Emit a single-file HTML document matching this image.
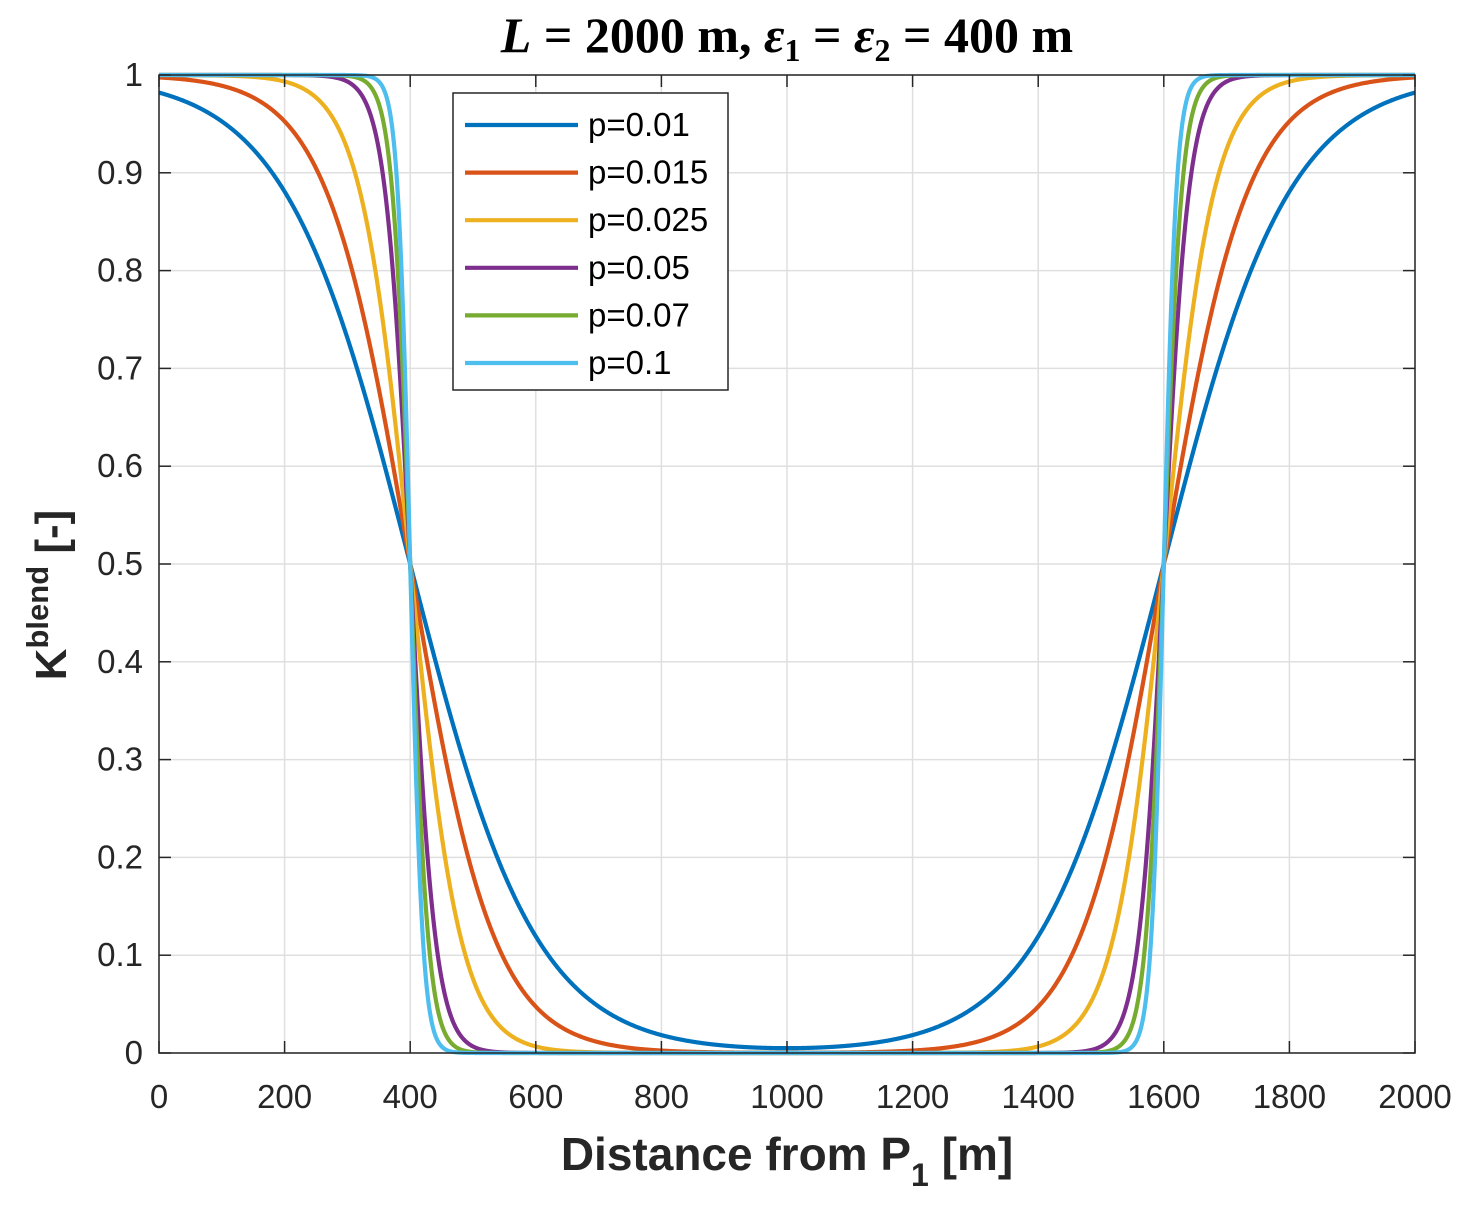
<!DOCTYPE html>
<html><head><meta charset="utf-8"><style>
body{margin:0;background:#fff;}
svg{display:block;font-family:"Liberation Sans",sans-serif;}
</style></head><body>
<svg id="chart" width="1471" height="1211" viewBox="0 0 1471 1211"></svg>
<script>
const pValues=[0.01,0.015,0.025,0.05,0.07,0.1];
const seriesLabels=["p=0.01","p=0.015","p=0.025","p=0.05","p=0.07","p=0.1"];
const seriesColors=["#0072BD","#D95319","#EDB120","#7E2F8E","#77AC30","#4DBEEE"];
const totalLength=[2000];
const eps1=[400];
const eps2=[400];
const xTicks=[0,200,400,600,800,1000,1200,1400,1600,1800,2000];
const yTicks=[0,0.1,0.2,0.3,0.4,0.5,0.6,0.7,0.8,0.9,1];
const yTickLabels=["0","0.1","0.2","0.3","0.4","0.5","0.6","0.7","0.8","0.9","1"];

const NS="http://www.w3.org/2000/svg";
const svg=document.getElementById('chart');
const X0=159,X1=1415,Y0=1053,Y1=75;
const sx=v=>X0+(v-0)/(2000-0)*(X1-X0);
const sy=v=>Y0-(v-0)/(1-0)*(Y0-Y1);
function mk(tag,attrs,parent){const e=document.createElementNS(NS,tag);for(const k in attrs)e.setAttribute(k,attrs[k]);(parent||svg).appendChild(e);return e;}

const grid=mk('g',{});


xTicks.forEach(t=>{mk('line',{x1:sx(t),x2:sx(t),y1:Y0,y2:Y1,stroke:'#dfdfdf','stroke-width':1.5},grid);});
yTicks.forEach(t=>{mk('line',{x1:X0,x2:X1,y1:sy(t),y2:sy(t),stroke:'#dfdfdf','stroke-width':1.5},grid);});

const curves=mk('g',{});


const L=totalLength[0],e1=eps1[0],e2=eps2[0];
pValues.forEach((p,i)=>{
  let d='';
  for(let x=0;x<=L;x+=1){
    const k=1/(1+Math.exp(p*(x-e1)))+1/(1+Math.exp(-p*(x-(L-e2))));
    d+=(x?'L':'M')+sx(x).toFixed(2)+','+sy(k).toFixed(2);
  }
  const path=mk('path',{d:d,fill:'none',stroke:seriesColors[i],'stroke-width':4.2},curves);
  
  
});

const axes=mk('g',{});


mk('rect',{x:X0,y:Y1,width:X1-X0,height:Y0-Y1,fill:'none',stroke:'#262626','stroke-width':1.5},axes);
xTicks.forEach(t=>{
  mk('line',{x1:sx(t),x2:sx(t),y1:Y0,y2:Y0-12,stroke:'#262626','stroke-width':1.5},axes);
  mk('line',{x1:sx(t),x2:sx(t),y1:Y1,y2:Y1+12,stroke:'#262626','stroke-width':1.5},axes);
  const tx=mk('text',{x:sx(t),y:1108,'text-anchor':'middle','font-size':33,fill:'#262626'},axes);
  tx.textContent=t;
  
  
});
yTicks.forEach((t,i)=>{
  mk('line',{x1:X0,x2:X0+12,y1:sy(t),y2:sy(t),stroke:'#262626','stroke-width':1.5},axes);
  mk('line',{x1:X1,x2:X1-12,y1:sy(t),y2:sy(t),stroke:'#262626','stroke-width':1.5},axes);
  const tx=mk('text',{x:143,y:sy(t)+11,'text-anchor':'end','font-size':33,fill:'#262626'},axes);
  tx.textContent=yTickLabels[i];
  
  
});

const leg=mk('g',{});


mk('rect',{x:453,y:93,width:275,height:297,fill:'#fff',stroke:'#262626','stroke-width':1.5},leg);
seriesLabels.forEach((s,i)=>{
  const y=125+i*47.6;
  const g=mk('g',{},leg);
  
  
  mk('line',{x1:465,x2:578,y1:y,y2:y,stroke:seriesColors[i],'stroke-width':4.2},g);
  const t=mk('text',{x:588,y:y+11,'font-size':33,fill:'#000'},g);
  t.textContent=s;
});
</script>
<svg style="position:absolute;left:0;top:0" width="1471" height="1211">
<text x="787" y="52" text-anchor="middle" font-family="'Liberation Serif',serif" font-size="50" font-weight="bold" fill="#000"><tspan font-style="italic">L</tspan> = 2000 m, <tspan font-style="italic">ε</tspan><tspan font-size="32" dy="9">1</tspan><tspan dy="-9"> = </tspan><tspan font-style="italic">ε</tspan><tspan font-size="32" dy="9">2</tspan><tspan dy="-9"> = 400 m</tspan></text>
<text x="787" y="1170" text-anchor="middle" font-family="'Liberation Sans',sans-serif" font-size="46" font-weight="bold" fill="#262626">Distance from P<tspan font-size="32" dy="16">1</tspan><tspan dy="-16"> [m]</tspan></text>
<text transform="translate(66,595) rotate(-90)" text-anchor="middle" font-family="'Liberation Sans',sans-serif" font-size="44" font-weight="bold" fill="#262626">K<tspan font-size="31" dy="-18">blend</tspan><tspan dy="18"> [-]</tspan></text>
</svg>
</body></html>
